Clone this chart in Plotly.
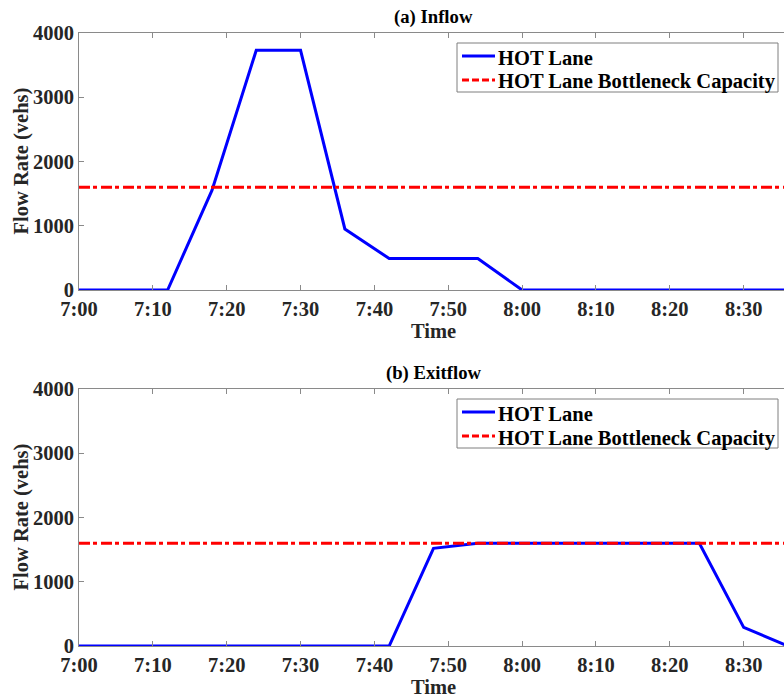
import plotly.graph_objects as go

# Data (minutes after 7:00, every 6 minutes)
minutes = [0, 6, 12, 18, 24, 30, 36, 42, 48, 54, 60, 66, 72, 78, 84, 90, 96]
inflow = [0, 0, 0, 1550, 3730, 3730, 950, 490, 490, 490, 0, 0, 0, 0, 0, 0, 0]
exitflow = [0, 0, 0, 0, 0, 0, 0, 0, 1520, 1600, 1600, 1600, 1600, 1600, 1600, 290, 0]
capacity = [1600] * len(minutes)

tick_vals = [0, 10, 20, 30, 40, 50, 60, 70, 80, 90]
tick_text = ["7:00", "7:10", "7:20", "7:30", "7:40", "7:50", "8:00", "8:10", "8:20", "8:30"]
y_ticks = [0, 1000, 2000, 3000, 4000]
series_names = ["HOT Lane", "HOT Lane Bottleneck Capacity"]

W, H = 784, 698
L = 79
FONT = "Liberation Serif"
AX = "#8a8a8a"
TXT = "#262626"
FS = 20.5
BLUE = "#0000ff"
RED = "#ff0000"
DASH = "11px,3px,4px,4px"

def py(px):
    return 1 - px / H

def pxx(px):
    return (px - L) / (W - L)

fig = go.Figure()

for i, series in enumerate([inflow, exitflow]):
    xa = "x" if i == 0 else "x2"
    ya = "y" if i == 0 else "y2"
    fig.add_trace(go.Scatter(x=minutes, y=series, mode="lines", name=series_names[0],
                             line=dict(color=BLUE, width=3), xaxis=xa, yaxis=ya,
                             showlegend=False))
    fig.add_trace(go.Scatter(x=minutes, y=capacity, mode="lines", name=series_names[1],
                             line=dict(color=RED, width=3, dash=DASH),
                             xaxis=xa, yaxis=ya, showlegend=False))

xrange = [0, 95.46]
dom_top = [py(290), py(33)]
dom_bot = [py(646), py(389)]

xcommon = dict(range=xrange, tickvals=tick_vals, ticktext=tick_text, showgrid=False,
               zeroline=False, showline=True, linecolor=AX, linewidth=1, mirror="ticks",
               ticks="inside", ticklen=5, tickcolor=AX, automargin=False,
               tickfont=dict(family=FONT, size=FS, color=TXT, weight="bold"),
               ticklabelstandoff=0)
ycommon = dict(range=[0, 4000], tickvals=y_ticks, showgrid=False, zeroline=False,
               showline=True, linecolor=AX, linewidth=1, mirror=False,
               ticks="inside", ticklen=5, tickcolor=AX, automargin=False,
               tickfont=dict(family=FONT, size=FS, color=TXT, weight="bold"))

fig.update_layout(
    width=W, height=H,
    margin=dict(l=L, r=0, t=0, b=0),
    plot_bgcolor="white", paper_bgcolor="white",
    xaxis=dict(domain=[0, 1], anchor="y", **xcommon),
    yaxis=dict(domain=dom_top, anchor="x", **ycommon),
    xaxis2=dict(domain=[0, 1], anchor="y2", **xcommon),
    yaxis2=dict(domain=dom_bot, anchor="x2", **ycommon),
    showlegend=False,
)

cx = pxx(433.5)
annots = [
    dict(text="(a) Inflow", x=cx, y=py(17), size=18.7, color="black"),
    dict(text="(b) Exitflow", x=cx, y=py(373), size=18.7, color="black"),
    dict(text="Time", x=cx, y=py(331), size=FS, color=TXT),
    dict(text="Time", x=cx, y=py(687), size=FS, color=TXT),
]
for a in annots:
    fig.add_annotation(text=a["text"], x=a["x"], y=a["y"], xref="paper", yref="paper",
                       xanchor="center", yanchor="middle", showarrow=False,
                       font=dict(family=FONT, size=a["size"], color=a["color"], weight="bold"))
for yc in [161.5, 517.5]:
    fig.add_annotation(text="Flow Rate (vehs)", x=pxx(21), y=py(yc), xref="paper", yref="paper",
                       xanchor="center", yanchor="middle", showarrow=False, textangle=-90,
                       font=dict(family=FONT, size=FS, color=TXT, weight="bold"))

# Legend boxes (one per panel)
for top in [43, 399]:
    fig.add_shape(type="rect", xref="paper", yref="paper",
                  x0=pxx(457), x1=pxx(778), y0=py(top), y1=py(top + 49),
                  line=dict(color="#7f7f7f", width=1), fillcolor="white", layer="above")
    rows = [(top + 13, BLUE, "solid", series_names[0]), (top + 37, RED, "dash", series_names[1])]
    for yr, col, dsh, name in rows:
        fig.add_shape(type="line", xref="paper", yref="paper",
                      x0=pxx(462), x1=pxx(495), y0=py(yr), y1=py(yr),
                      line=dict(color=col, width=3, dash="7px,3px" if dsh == "dash" else "solid"),
                      layer="above")
        fig.add_annotation(text=name, x=pxx(496), y=py(yr + 2), xref="paper", yref="paper",
                           xanchor="left", yanchor="middle", showarrow=False,
                           font=dict(family=FONT, size=FS, color="black", weight="bold"))

fig.write_html("out.html")
